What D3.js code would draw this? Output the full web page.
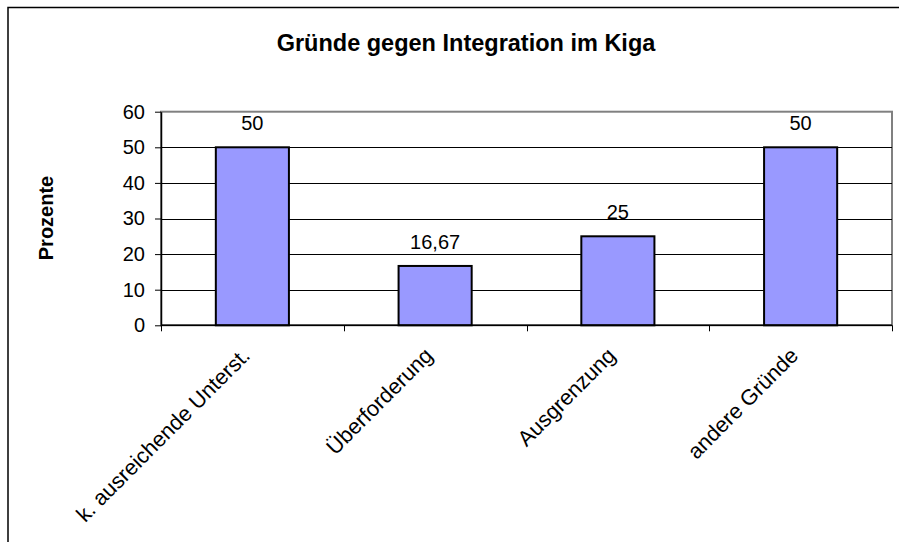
<!DOCTYPE html>
<html>
<head>
<meta charset="utf-8">
<script src="https://cdn.jsdelivr.net/npm/d3@7"></script>
<style>
  html, body { margin: 0; padding: 0; background: #fff; }
  svg text { font-family: "Liberation Sans", Arial, sans-serif; fill: #000; }
</style>
</head>
<body>
<svg id="chart" width="899" height="542"></svg>
<script>
// Daten
const categories = ['k. ausreichende Unterst.', 'Überforderung', 'Ausgrenzung', 'andere Gründe'];
const values = [50, 16.67, 25, 50];
const yTicks = [0, 10, 20, 30, 40, 50, 60];

const svg = d3.select('#chart');

const plot = { left: 161, right: 892, top: 111.7, bottom: 325.3 };

const x = d3.scaleBand()
  .domain(categories)
  .range([plot.left, plot.right])
  .paddingInner(0.6)
  .paddingOuter(0.3);

const y = d3.scaleLinear()
  .domain([0, 60])
  .range([plot.bottom, plot.top]);

/****************** 외곽 프레임 ******************/
svg.append('rect')
  .attr('x', 8)
  .attr('y', 7.5)
  .attr('width', 1000)
  .attr('height', 1000)
  .attr('fill', 'none')
  .attr('stroke', '#000')
  .attr('stroke-width', 1.5);

/****************** 제목 ******************/
svg.append('text')
  .text('Gründe gegen Integration im Kiga')
  .attr('x', 466)
  .attr('y', 51)
  .attr('text-anchor', 'middle')
  .attr('font-size', '23.5px')
  .attr('font-weight', 'bold');

svg.append('text')
  .text('Prozente')
  .attr('transform', 'translate(53,218) rotate(-90)')
  .attr('text-anchor', 'middle')
  .attr('font-size', '20px')
  .attr('font-weight', 'bold');

/****************** 플롯 영역 ******************/
svg.append('rect')
  .attr('x', plot.left)
  .attr('y', plot.top)
  .attr('width', plot.right - plot.left)
  .attr('height', plot.bottom - plot.top)
  .attr('fill', '#fff')
  .attr('stroke', '#808080')
  .attr('stroke-width', 2);

// 그리드
svg.append('g')
  .selectAll('line')
  .data(yTicks.filter(d => d > 0 && d < 60))
  .join('line')
  .attr('x1', plot.left)
  .attr('x2', plot.right)
  .attr('y1', d => Math.round(y(d)) + 0.5)
  .attr('y2', d => Math.round(y(d)) + 0.5)
  .attr('stroke', '#000')
  .attr('stroke-width', 1);

// 막대
svg.append('g')
  .selectAll('rect')
  .data(values)
  .join('rect')
  .attr('x', (d, i) => x(categories[i]))
  .attr('y', d => y(d))
  .attr('width', x.bandwidth())
  .attr('height', d => y(0) - y(d))
  .attr('fill', '#9999FF')
  .attr('stroke', '#000')
  .attr('stroke-width', 2);

// 값 라벨
svg.append('g')
  .selectAll('text')
  .data(values)
  .join('text')
  .text(d => String(d).replace('.', ','))
  .attr('x', (d, i) => x(categories[i]) + x.bandwidth() / 2)
  .attr('y', d => y(d) - 17)
  .attr('text-anchor', 'middle')
  .attr('font-size', '20px');

/****************** 축 ******************/
const yAxis = svg.append('g')
  .attr('transform', `translate(${plot.left},0)`)
  .call(d3.axisLeft(y).tickValues(yTicks).tickSize(6).tickPadding(10).tickSizeOuter(0));
yAxis.select('.domain').attr('stroke', '#000').attr('stroke-width', 1.5);
yAxis.selectAll('.tick line').attr('stroke', '#000');
yAxis.selectAll('.tick text')
  .attr('font-size', '20px')
  .attr('font-family', '"Liberation Sans", Arial, sans-serif')
  .attr('fill', '#000');

// x축: 구간 경계 눈금
const step = x.step();
const boundaries = d3.range(categories.length + 1).map(i => plot.left + i * step);
const xAxis = svg.append('g');
xAxis.append('line')
  .attr('x1', plot.left)
  .attr('x2', plot.right)
  .attr('y1', plot.bottom)
  .attr('y2', plot.bottom)
  .attr('stroke', '#000')
  .attr('stroke-width', 1.5);
xAxis.selectAll('line.tk')
  .data(boundaries)
  .join('line')
  .attr('class', 'tk')
  .attr('x1', d => Math.round(d) + 0.5)
  .attr('x2', d => Math.round(d) + 0.5)
  .attr('y1', plot.bottom)
  .attr('y2', plot.bottom + 6)
  .attr('stroke', '#000');

xAxis.selectAll('text')
  .data(categories)
  .join('text')
  .text(d => d)
  .attr('transform', d => `translate(${x(d) + x.bandwidth() / 2 - 1},357) rotate(-45)`)
  .attr('text-anchor', 'end')
  .attr('font-size', '21.7px');
</script>
</body>
</html>
